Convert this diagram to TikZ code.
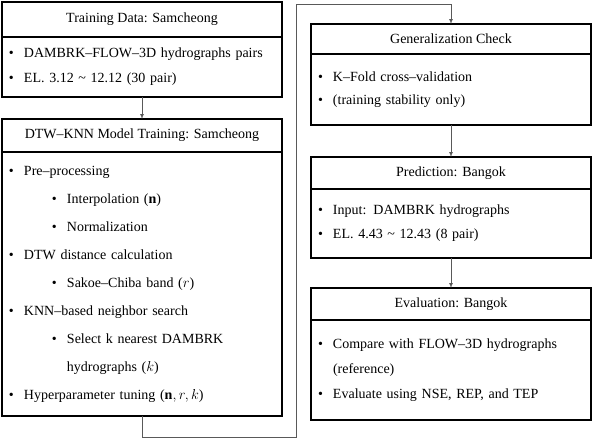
\documentclass[tikz,border=0pt]{standalone}
\usepackage{fontspec}
\setmainfont{Liberation Serif}
\usetikzlibrary{positioning}
\newcommand\bitem[1]{\makebox[15pt][l]{\textbullet}#1}
\newcommand\bsub[1]{\hspace{43pt}\makebox[15pt][l]{\textbullet}#1}
\newcommand\bcont[1]{\hspace{58pt}#1}
\tikzset{
  hdr/.style={draw,line width=1.3pt,minimum width=280pt,inner sep=0pt,
    outer sep=0pt,font=\fontsize{14}{17}\selectfont},
  body/.style={draw,line width=1.3pt,minimum width=280pt,inner sep=0pt,
    outer sep=0pt,text width=266pt,align=left,
    font=\fontsize{14}{25}\selectfont},
  link/.style={->,gray!70!black,line width=0.7pt}
}
\begin{document}
\begin{tikzpicture}[x=1pt,y=-1pt,>=latex]
\useasboundingbox (0,0) rectangle (592,440);
% left column
\node[hdr,minimum height=35pt,anchor=north west] (trainH) at (2,2)
	{Training Data: Samcheong};
\node[body,minimum height=60pt,below=0pt of trainH] (trainB)
	{\bitem{DAMBRK–FLOW–3D hydrographs pairs}\\
	 \bitem{EL. 3.12 {\textasciitilde} 12.12 (30 pair)}};
\node[hdr,minimum height=33pt,below=22pt of trainB] (dtwH)
	{DTW–KNN Model Training: Samcheong};
\node[body,minimum height=264pt,below=0pt of dtwH,
	font=\fontsize{14}{28}\selectfont] (dtwB)
	{\bitem{Pre–processing}\\
	 \bsub{Interpolation ($\mathbf{n}$)}\\
	 \bsub{Normalization}\\
	 \bitem{DTW distance calculation}\\
	 \bsub{Sakoe–Chiba band ($r$)}\\
	 \bitem{KNN–based neighbor search}\\
	 \bsub{Select k nearest DAMBRK}\\
	 \bcont{hydrographs ($k$)}\\
	 \bitem{Hyperparameter tuning ($\mathbf{n}, r, k$)}};
% right column
\node[hdr,minimum height=30pt,anchor=north west] (genH) at (311,24)
	{Generalization Check};
\node[body,minimum height=71pt,below=0pt of genH,
	font=\fontsize{14}{23}\selectfont] (genB)
	{\bitem{K–Fold cross–validation}\\
	 \bitem{(training stability only)}};
\node[hdr,minimum height=32pt,below=32pt of genB] (predH)
	{Prediction: Bangok};
\node[body,minimum height=69pt,below=0pt of predH,
	font=\fontsize{14}{24}\selectfont] (predB)
	{\bitem{Input: DAMBRK hydrographs}\\
	 \bitem{EL. 4.43 {\textasciitilde} 12.43 (8 pair)}};
\node[hdr,minimum height=32pt,below=30pt of predB] (evalH)
	{Evaluation: Bangok};
\node[body,minimum height=100pt,below=0pt of evalH,
	font=\fontsize{14}{25}\selectfont] (evalB)
	{\bitem{Compare with FLOW–3D hydrographs}\\
	 \hspace{15pt}(reference)\\
	 \bitem{Evaluate using NSE, REP, and TEP}};
% connectors
\coordinate (bend) at (296,4);
\draw[link] (trainB) -- (dtwH);
\draw[link,-] (dtwB.south) -- ++(0,21) -| (bend);
\draw[link] (bend) -| (genH.north);
\draw[link] (genB) -- (predH);
\draw[link] (predB) -- (evalH);
\end{tikzpicture}
\end{document}
